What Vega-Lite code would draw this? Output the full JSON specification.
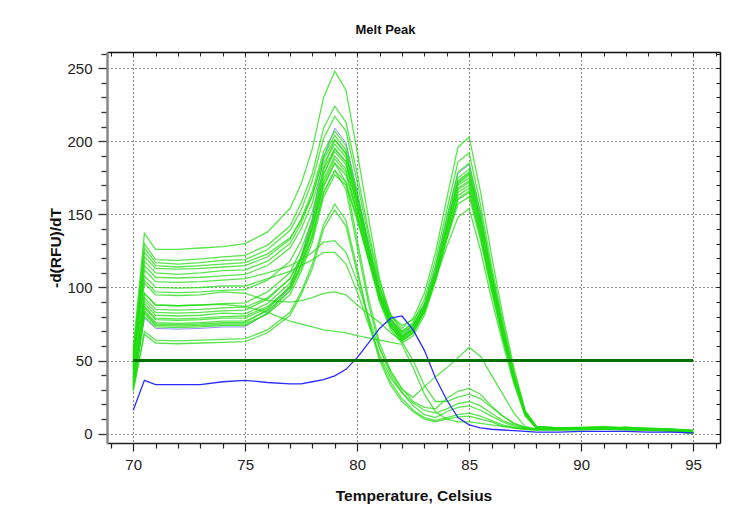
{
"$schema":"https://vega.github.io/schema/vega-lite/v6.json",
"width":613,"height":391,
"autosize":{"type":"none"},
"padding":{"left":107,"top":52,"right":30,"bottom":77},
"background":"white",
"title":{"text":"Melt Peak","font":"Liberation Sans","fontSize":13,"fontWeight":"bold","color":"#111","anchor":"middle","dx":-28,"offset":10},
"config":{"view":{"stroke":null},"axis":{"labelFont":"Liberation Sans","titleFont":"Liberation Sans","labelColor":"#222","titleColor":"#111"}},
"datasets":{
"green":[
{"s":"A1","t":70,"v":58},{"s":"A1","t":70.5,"v":137},{"s":"A1","t":71,"v":126},{"s":"A1","t":72,"v":126},{"s":"A1","t":73,"v":127},{"s":"A1","t":74,"v":128},{"s":"A1","t":75,"v":130},{"s":"A1","t":76,"v":138},{"s":"A1","t":77,"v":154},{"s":"A1","t":77.5,"v":171},{"s":"A1","t":78,"v":195},{"s":"A1","t":78.5,"v":230},{"s":"A1","t":79,"v":248},{"s":"A1","t":79.5,"v":235},{"s":"A1","t":80,"v":193},{"s":"A1","t":80.5,"v":148},{"s":"A1","t":81,"v":106},{"s":"A1","t":81.5,"v":79},{"s":"A1","t":82,"v":66},{"s":"A1","t":82.5,"v":72},{"s":"A1","t":83,"v":86},{"s":"A1","t":83.5,"v":111},{"s":"A1","t":84,"v":142},{"s":"A1","t":84.5,"v":172},{"s":"A1","t":85,"v":178},{"s":"A1","t":85.5,"v":146},{"s":"A1","t":86,"v":107},{"s":"A1","t":86.5,"v":71},{"s":"A1","t":87,"v":39},{"s":"A1","t":87.5,"v":14},{"s":"A1","t":88,"v":4.5},{"s":"A1","t":89,"v":3},{"s":"A1","t":90,"v":3.5},{"s":"A1","t":91,"v":4},{"s":"A1","t":92,"v":4},{"s":"A1","t":93,"v":3.5},{"s":"A1","t":94,"v":2.5},{"s":"A1","t":95,"v":1},
{"s":"A2","t":70,"v":55},{"s":"A2","t":70.5,"v":130},{"s":"A2","t":71,"v":119},{"s":"A2","t":72,"v":118.5},{"s":"A2","t":73,"v":119.5},{"s":"A2","t":74,"v":121},{"s":"A2","t":75,"v":122},{"s":"A2","t":76,"v":129},{"s":"A2","t":77,"v":142},{"s":"A2","t":77.5,"v":158},{"s":"A2","t":78,"v":178},{"s":"A2","t":78.5,"v":209},{"s":"A2","t":79,"v":224},{"s":"A2","t":79.5,"v":213},{"s":"A2","t":80,"v":178},{"s":"A2","t":80.5,"v":139},{"s":"A2","t":81,"v":104},{"s":"A2","t":81.5,"v":81},{"s":"A2","t":82,"v":70},{"s":"A2","t":82.5,"v":76},{"s":"A2","t":83,"v":92},{"s":"A2","t":83.5,"v":119},{"s":"A2","t":84,"v":153},{"s":"A2","t":84.5,"v":186},{"s":"A2","t":85,"v":192},{"s":"A2","t":85.5,"v":157},{"s":"A2","t":86,"v":115},{"s":"A2","t":86.5,"v":77},{"s":"A2","t":87,"v":42},{"s":"A2","t":87.5,"v":15},{"s":"A2","t":88,"v":5},{"s":"A2","t":89,"v":4},{"s":"A2","t":90,"v":3},{"s":"A2","t":91,"v":3.5},{"s":"A2","t":92,"v":4.5},{"s":"A2","t":93,"v":3},{"s":"A2","t":94,"v":2},{"s":"A2","t":95,"v":0.5},
{"s":"A3","t":70,"v":53},{"s":"A3","t":70.5,"v":127},{"s":"A3","t":71,"v":117},{"s":"A3","t":72,"v":116},{"s":"A3","t":73,"v":117},{"s":"A3","t":74,"v":118.5},{"s":"A3","t":75,"v":119},{"s":"A3","t":76,"v":126},{"s":"A3","t":77,"v":139},{"s":"A3","t":77.5,"v":153},{"s":"A3","t":78,"v":173},{"s":"A3","t":78.5,"v":202},{"s":"A3","t":79,"v":217},{"s":"A3","t":79.5,"v":207},{"s":"A3","t":80,"v":172},{"s":"A3","t":80.5,"v":135},{"s":"A3","t":81,"v":101},{"s":"A3","t":81.5,"v":78},{"s":"A3","t":82,"v":68},{"s":"A3","t":82.5,"v":74},{"s":"A3","t":83,"v":89},{"s":"A3","t":83.5,"v":115},{"s":"A3","t":84,"v":148},{"s":"A3","t":84.5,"v":179},{"s":"A3","t":85,"v":185},{"s":"A3","t":85.5,"v":152},{"s":"A3","t":86,"v":111},{"s":"A3","t":86.5,"v":74},{"s":"A3","t":87,"v":41},{"s":"A3","t":87.5,"v":15},{"s":"A3","t":88,"v":5},{"s":"A3","t":89,"v":3.5},{"s":"A3","t":90,"v":4},{"s":"A3","t":91,"v":4},{"s":"A3","t":92,"v":3.5},{"s":"A3","t":93,"v":3},{"s":"A3","t":94,"v":3},{"s":"A3","t":95,"v":2},
{"s":"A4","t":70,"v":51},{"s":"A4","t":70.5,"v":124},{"s":"A4","t":71,"v":115},{"s":"A4","t":72,"v":114},{"s":"A4","t":73,"v":115},{"s":"A4","t":74,"v":116},{"s":"A4","t":75,"v":117},{"s":"A4","t":76,"v":123},{"s":"A4","t":77,"v":134},{"s":"A4","t":77.5,"v":146},{"s":"A4","t":78,"v":163},{"s":"A4","t":78.5,"v":188},{"s":"A4","t":79,"v":201},{"s":"A4","t":79.5,"v":192},{"s":"A4","t":80,"v":162},{"s":"A4","t":80.5,"v":130},{"s":"A4","t":81,"v":100},{"s":"A4","t":81.5,"v":81},{"s":"A4","t":82,"v":72},{"s":"A4","t":82.5,"v":79},{"s":"A4","t":83,"v":96},{"s":"A4","t":83.5,"v":124},{"s":"A4","t":84,"v":161},{"s":"A4","t":84.5,"v":196},{"s":"A4","t":85,"v":203},{"s":"A4","t":85.5,"v":166},{"s":"A4","t":86,"v":122},{"s":"A4","t":86.5,"v":81},{"s":"A4","t":87,"v":45},{"s":"A4","t":87.5,"v":16},{"s":"A4","t":88,"v":5},{"s":"A4","t":89,"v":4},{"s":"A4","t":90,"v":4.5},{"s":"A4","t":91,"v":5},{"s":"A4","t":92,"v":4},{"s":"A4","t":93,"v":3.5},{"s":"A4","t":94,"v":2.5},{"s":"A4","t":95,"v":1.5},
{"s":"A5","t":70,"v":50},{"s":"A5","t":70.5,"v":121},{"s":"A5","t":71,"v":113},{"s":"A5","t":72,"v":112.5},{"s":"A5","t":73,"v":113},{"s":"A5","t":74,"v":114},{"s":"A5","t":75,"v":115},{"s":"A5","t":76,"v":121},{"s":"A5","t":77,"v":133},{"s":"A5","t":77.5,"v":147},{"s":"A5","t":78,"v":166},{"s":"A5","t":78.5,"v":193},{"s":"A5","t":79,"v":207},{"s":"A5","t":79.5,"v":197},{"s":"A5","t":80,"v":164},{"s":"A5","t":80.5,"v":129},{"s":"A5","t":81,"v":96},{"s":"A5","t":81.5,"v":75},{"s":"A5","t":82,"v":65},{"s":"A5","t":82.5,"v":71},{"s":"A5","t":83,"v":86},{"s":"A5","t":83.5,"v":111},{"s":"A5","t":84,"v":144},{"s":"A5","t":84.5,"v":175},{"s":"A5","t":85,"v":181},{"s":"A5","t":85.5,"v":148},{"s":"A5","t":86,"v":109},{"s":"A5","t":86.5,"v":72},{"s":"A5","t":87,"v":40},{"s":"A5","t":87.5,"v":14},{"s":"A5","t":88,"v":4.5},{"s":"A5","t":89,"v":3},{"s":"A5","t":90,"v":3},{"s":"A5","t":91,"v":3.5},{"s":"A5","t":92,"v":3.5},{"s":"A5","t":93,"v":3},{"s":"A5","t":94,"v":2},{"s":"A5","t":95,"v":0},
{"s":"A6","t":70,"v":48},{"s":"A6","t":70.5,"v":118},{"s":"A6","t":71,"v":110},{"s":"A6","t":72,"v":109},{"s":"A6","t":73,"v":110},{"s":"A6","t":74,"v":111.5},{"s":"A6","t":75,"v":112},{"s":"A6","t":76,"v":118},{"s":"A6","t":77,"v":130},{"s":"A6","t":77.5,"v":144},{"s":"A6","t":78,"v":163},{"s":"A6","t":78.5,"v":190},{"s":"A6","t":79,"v":204},{"s":"A6","t":79.5,"v":194},{"s":"A6","t":80,"v":162},{"s":"A6","t":80.5,"v":126},{"s":"A6","t":81,"v":94},{"s":"A6","t":81.5,"v":73},{"s":"A6","t":82,"v":63},{"s":"A6","t":82.5,"v":69},{"s":"A6","t":83,"v":84},{"s":"A6","t":83.5,"v":109},{"s":"A6","t":84,"v":142},{"s":"A6","t":84.5,"v":173},{"s":"A6","t":85,"v":179},{"s":"A6","t":85.5,"v":147},{"s":"A6","t":86,"v":107},{"s":"A6","t":86.5,"v":72},{"s":"A6","t":87,"v":39},{"s":"A6","t":87.5,"v":14},{"s":"A6","t":88,"v":4.5},{"s":"A6","t":89,"v":4},{"s":"A6","t":90,"v":3.5},{"s":"A6","t":91,"v":3},{"s":"A6","t":92,"v":4},{"s":"A6","t":93,"v":4},{"s":"A6","t":94,"v":3},{"s":"A6","t":95,"v":2.5},
{"s":"A7","t":70,"v":47},{"s":"A7","t":70.5,"v":115},{"s":"A7","t":71,"v":107},{"s":"A7","t":72,"v":106.5},{"s":"A7","t":73,"v":107},{"s":"A7","t":74,"v":108},{"s":"A7","t":75,"v":109},{"s":"A7","t":76,"v":115},{"s":"A7","t":77,"v":127},{"s":"A7","t":77.5,"v":140},{"s":"A7","t":78,"v":158},{"s":"A7","t":78.5,"v":185},{"s":"A7","t":79,"v":198},{"s":"A7","t":79.5,"v":189},{"s":"A7","t":80,"v":159},{"s":"A7","t":80.5,"v":126},{"s":"A7","t":81,"v":96},{"s":"A7","t":81.5,"v":76},{"s":"A7","t":82,"v":67},{"s":"A7","t":82.5,"v":72},{"s":"A7","t":83,"v":86},{"s":"A7","t":83.5,"v":110},{"s":"A7","t":84,"v":140},{"s":"A7","t":84.5,"v":170},{"s":"A7","t":85,"v":175},{"s":"A7","t":85.5,"v":144},{"s":"A7","t":86,"v":105},{"s":"A7","t":86.5,"v":70},{"s":"A7","t":87,"v":38},{"s":"A7","t":87.5,"v":14},{"s":"A7","t":88,"v":4},{"s":"A7","t":89,"v":3},{"s":"A7","t":90,"v":4},{"s":"A7","t":91,"v":4.5},{"s":"A7","t":92,"v":4},{"s":"A7","t":93,"v":3},{"s":"A7","t":94,"v":2},{"s":"A7","t":95,"v":1},
{"s":"A8","t":70,"v":44},{"s":"A8","t":70.5,"v":105},{"s":"A8","t":71,"v":97},{"s":"A8","t":72,"v":96.5},{"s":"A8","t":73,"v":97},{"s":"A8","t":74,"v":98},{"s":"A8","t":75,"v":98.5},{"s":"A8","t":76,"v":105},{"s":"A8","t":77,"v":118},{"s":"A8","t":77.5,"v":132},{"s":"A8","t":78,"v":152},{"s":"A8","t":78.5,"v":181},{"s":"A8","t":79,"v":195},{"s":"A8","t":79.5,"v":186},{"s":"A8","t":80,"v":156},{"s":"A8","t":80.5,"v":123},{"s":"A8","t":81,"v":93},{"s":"A8","t":81.5,"v":73},{"s":"A8","t":82,"v":64},{"s":"A8","t":82.5,"v":69},{"s":"A8","t":83,"v":83},{"s":"A8","t":83.5,"v":107},{"s":"A8","t":84,"v":137},{"s":"A8","t":84.5,"v":167},{"s":"A8","t":85,"v":172},{"s":"A8","t":85.5,"v":141},{"s":"A8","t":86,"v":103},{"s":"A8","t":86.5,"v":69},{"s":"A8","t":87,"v":38},{"s":"A8","t":87.5,"v":14},{"s":"A8","t":88,"v":4},{"s":"A8","t":89,"v":3.5},{"s":"A8","t":90,"v":3.5},{"s":"A8","t":91,"v":3.5},{"s":"A8","t":92,"v":3},{"s":"A8","t":93,"v":3},{"s":"A8","t":94,"v":2.5},{"s":"A8","t":95,"v":1.5},
{"s":"A9","t":70,"v":40},{"s":"A9","t":70.5,"v":96},{"s":"A9","t":71,"v":88},{"s":"A9","t":72,"v":87.5},{"s":"A9","t":73,"v":88},{"s":"A9","t":74,"v":89},{"s":"A9","t":75,"v":89.5},{"s":"A9","t":76,"v":97},{"s":"A9","t":77,"v":110},{"s":"A9","t":77.5,"v":126},{"s":"A9","t":78,"v":146},{"s":"A9","t":78.5,"v":178},{"s":"A9","t":79,"v":193},{"s":"A9","t":79.5,"v":184},{"s":"A9","t":80,"v":156},{"s":"A9","t":80.5,"v":125},{"s":"A9","t":81,"v":96},{"s":"A9","t":81.5,"v":78},{"s":"A9","t":82,"v":69},{"s":"A9","t":82.5,"v":74},{"s":"A9","t":83,"v":87},{"s":"A9","t":83.5,"v":109},{"s":"A9","t":84,"v":138},{"s":"A9","t":84.5,"v":165},{"s":"A9","t":85,"v":170},{"s":"A9","t":85.5,"v":139},{"s":"A9","t":86,"v":102},{"s":"A9","t":86.5,"v":68},{"s":"A9","t":87,"v":37},{"s":"A9","t":87.5,"v":14},{"s":"A9","t":88,"v":4},{"s":"A9","t":89,"v":4},{"s":"A9","t":90,"v":4},{"s":"A9","t":91,"v":4},{"s":"A9","t":92,"v":4.5},{"s":"A9","t":93,"v":3.5},{"s":"A9","t":94,"v":3},{"s":"A9","t":95,"v":2},
{"s":"A10","t":70,"v":38},{"s":"A10","t":70.5,"v":91},{"s":"A10","t":71,"v":83},{"s":"A10","t":72,"v":82.5},{"s":"A10","t":73,"v":83},{"s":"A10","t":74,"v":84},{"s":"A10","t":75,"v":84.5},{"s":"A10","t":76,"v":92},{"s":"A10","t":77,"v":106},{"s":"A10","t":77.5,"v":121},{"s":"A10","t":78,"v":143},{"s":"A10","t":78.5,"v":174},{"s":"A10","t":79,"v":190},{"s":"A10","t":79.5,"v":181},{"s":"A10","t":80,"v":152},{"s":"A10","t":80.5,"v":120},{"s":"A10","t":81,"v":90},{"s":"A10","t":81.5,"v":71},{"s":"A10","t":82,"v":62},{"s":"A10","t":82.5,"v":67},{"s":"A10","t":83,"v":81},{"s":"A10","t":83.5,"v":104},{"s":"A10","t":84,"v":134},{"s":"A10","t":84.5,"v":163},{"s":"A10","t":85,"v":168},{"s":"A10","t":85.5,"v":138},{"s":"A10","t":86,"v":101},{"s":"A10","t":86.5,"v":67},{"s":"A10","t":87,"v":37},{"s":"A10","t":87.5,"v":13},{"s":"A10","t":88,"v":4},{"s":"A10","t":89,"v":3},{"s":"A10","t":90,"v":3},{"s":"A10","t":91,"v":3.5},{"s":"A10","t":92,"v":3.5},{"s":"A10","t":93,"v":2.5},{"s":"A10","t":94,"v":2},{"s":"A10","t":95,"v":0.5},
{"s":"A11","t":70,"v":37},{"s":"A11","t":70.5,"v":89},{"s":"A11","t":71,"v":81},{"s":"A11","t":72,"v":80.5},{"s":"A11","t":73,"v":81},{"s":"A11","t":74,"v":82.5},{"s":"A11","t":75,"v":82},{"s":"A11","t":76,"v":89},{"s":"A11","t":77,"v":103},{"s":"A11","t":77.5,"v":119},{"s":"A11","t":78,"v":140},{"s":"A11","t":78.5,"v":172},{"s":"A11","t":79,"v":188},{"s":"A11","t":79.5,"v":179},{"s":"A11","t":80,"v":151},{"s":"A11","t":80.5,"v":121},{"s":"A11","t":81,"v":93},{"s":"A11","t":81.5,"v":75},{"s":"A11","t":82,"v":66},{"s":"A11","t":82.5,"v":71},{"s":"A11","t":83,"v":84},{"s":"A11","t":83.5,"v":106},{"s":"A11","t":84,"v":134},{"s":"A11","t":84.5,"v":161},{"s":"A11","t":85,"v":166},{"s":"A11","t":85.5,"v":136},{"s":"A11","t":86,"v":100},{"s":"A11","t":86.5,"v":66},{"s":"A11","t":87,"v":37},{"s":"A11","t":87.5,"v":13},{"s":"A11","t":88,"v":4},{"s":"A11","t":89,"v":3.5},{"s":"A11","t":90,"v":4},{"s":"A11","t":91,"v":3.5},{"s":"A11","t":92,"v":3},{"s":"A11","t":93,"v":3.5},{"s":"A11","t":94,"v":3},{"s":"A11","t":95,"v":1},
{"s":"A12","t":70,"v":35},{"s":"A12","t":70.5,"v":86},{"s":"A12","t":71,"v":78},{"s":"A12","t":72,"v":77.5},{"s":"A12","t":73,"v":78},{"s":"A12","t":74,"v":79},{"s":"A12","t":75,"v":79},{"s":"A12","t":76,"v":86},{"s":"A12","t":77,"v":100},{"s":"A12","t":77.5,"v":116},{"s":"A12","t":78,"v":137},{"s":"A12","t":78.5,"v":169},{"s":"A12","t":79,"v":185},{"s":"A12","t":79.5,"v":177},{"s":"A12","t":80,"v":149},{"s":"A12","t":80.5,"v":119},{"s":"A12","t":81,"v":91},{"s":"A12","t":81.5,"v":73},{"s":"A12","t":82,"v":65},{"s":"A12","t":82.5,"v":70},{"s":"A12","t":83,"v":83},{"s":"A12","t":83.5,"v":105},{"s":"A12","t":84,"v":133},{"s":"A12","t":84.5,"v":160},{"s":"A12","t":85,"v":165},{"s":"A12","t":85.5,"v":135},{"s":"A12","t":86,"v":99},{"s":"A12","t":86.5,"v":66},{"s":"A12","t":87,"v":36},{"s":"A12","t":87.5,"v":13},{"s":"A12","t":88,"v":4},{"s":"A12","t":89,"v":3},{"s":"A12","t":90,"v":3.5},{"s":"A12","t":91,"v":4},{"s":"A12","t":92,"v":3.5},{"s":"A12","t":93,"v":3},{"s":"A12","t":94,"v":2},{"s":"A12","t":95,"v":1},
{"s":"A13","t":70,"v":34},{"s":"A13","t":70.5,"v":84},{"s":"A13","t":71,"v":76},{"s":"A13","t":72,"v":75.5},{"s":"A13","t":73,"v":76},{"s":"A13","t":74,"v":77},{"s":"A13","t":75,"v":77},{"s":"A13","t":76,"v":84},{"s":"A13","t":77,"v":98},{"s":"A13","t":77.5,"v":113},{"s":"A13","t":78,"v":134},{"s":"A13","t":78.5,"v":165},{"s":"A13","t":79,"v":180},{"s":"A13","t":79.5,"v":172},{"s":"A13","t":80,"v":147},{"s":"A13","t":80.5,"v":120},{"s":"A13","t":81,"v":94},{"s":"A13","t":81.5,"v":78},{"s":"A13","t":82,"v":70},{"s":"A13","t":82.5,"v":75},{"s":"A13","t":83,"v":87},{"s":"A13","t":83.5,"v":107},{"s":"A13","t":84,"v":133},{"s":"A13","t":84.5,"v":157},{"s":"A13","t":85,"v":162},{"s":"A13","t":85.5,"v":133},{"s":"A13","t":86,"v":97},{"s":"A13","t":86.5,"v":65},{"s":"A13","t":87,"v":36},{"s":"A13","t":87.5,"v":13},{"s":"A13","t":88,"v":4},{"s":"A13","t":89,"v":3.5},{"s":"A13","t":90,"v":3},{"s":"A13","t":91,"v":3},{"s":"A13","t":92,"v":3.5},{"s":"A13","t":93,"v":3},{"s":"A13","t":94,"v":2.5},{"s":"A13","t":95,"v":1.5},
{"s":"A14","t":70,"v":33},{"s":"A14","t":70.5,"v":83},{"s":"A14","t":71,"v":75},{"s":"A14","t":72,"v":74.5},{"s":"A14","t":73,"v":75},{"s":"A14","t":74,"v":76},{"s":"A14","t":75,"v":76},{"s":"A14","t":76,"v":85},{"s":"A14","t":77,"v":101},{"s":"A14","t":77.5,"v":120},{"s":"A14","t":78,"v":145},{"s":"A14","t":78.5,"v":182},{"s":"A14","t":79,"v":201},{"s":"A14","t":79.5,"v":191},{"s":"A14","t":80,"v":160},{"s":"A14","t":80.5,"v":126},{"s":"A14","t":81,"v":94},{"s":"A14","t":81.5,"v":74},{"s":"A14","t":82,"v":64},{"s":"A14","t":82.5,"v":69},{"s":"A14","t":83,"v":84},{"s":"A14","t":83.5,"v":108},{"s":"A14","t":84,"v":138},{"s":"A14","t":84.5,"v":168},{"s":"A14","t":85,"v":173},{"s":"A14","t":85.5,"v":142},{"s":"A14","t":86,"v":104},{"s":"A14","t":86.5,"v":69},{"s":"A14","t":87,"v":38},{"s":"A14","t":87.5,"v":14},{"s":"A14","t":88,"v":4},{"s":"A14","t":89,"v":4},{"s":"A14","t":90,"v":4},{"s":"A14","t":91,"v":4.5},{"s":"A14","t":92,"v":4},{"s":"A14","t":93,"v":3.5},{"s":"A14","t":94,"v":3},{"s":"A14","t":95,"v":2},
{"s":"A15","t":70,"v":32},{"s":"A15","t":70.5,"v":82},{"s":"A15","t":71,"v":74},{"s":"A15","t":72,"v":73.5},{"s":"A15","t":73,"v":74},{"s":"A15","t":74,"v":75},{"s":"A15","t":75,"v":75},{"s":"A15","t":76,"v":82},{"s":"A15","t":77,"v":95},{"s":"A15","t":77.5,"v":111},{"s":"A15","t":78,"v":131},{"s":"A15","t":78.5,"v":162},{"s":"A15","t":79,"v":177},{"s":"A15","t":79.5,"v":170},{"s":"A15","t":80,"v":146},{"s":"A15","t":80.5,"v":120},{"s":"A15","t":81,"v":97},{"s":"A15","t":81.5,"v":81},{"s":"A15","t":82,"v":74},{"s":"A15","t":82.5,"v":78},{"s":"A15","t":83,"v":88},{"s":"A15","t":83.5,"v":106},{"s":"A15","t":84,"v":128},{"s":"A15","t":84.5,"v":148},{"s":"A15","t":85,"v":154},{"s":"A15","t":85.5,"v":126},{"s":"A15","t":86,"v":92},{"s":"A15","t":86.5,"v":62},{"s":"A15","t":87,"v":34},{"s":"A15","t":87.5,"v":12},{"s":"A15","t":88,"v":4},{"s":"A15","t":89,"v":3},{"s":"A15","t":90,"v":3},{"s":"A15","t":91,"v":3.5},{"s":"A15","t":92,"v":3},{"s":"A15","t":93,"v":2.5},{"s":"A15","t":94,"v":2},{"s":"A15","t":95,"v":0},
{"s":"A16","t":70,"v":31},{"s":"A16","t":70.5,"v":80},{"s":"A16","t":71,"v":73},{"s":"A16","t":72,"v":72.5},{"s":"A16","t":73,"v":73},{"s":"A16","t":74,"v":74},{"s":"A16","t":75,"v":74},{"s":"A16","t":76,"v":82},{"s":"A16","t":77,"v":98},{"s":"A16","t":77.5,"v":116},{"s":"A16","t":78,"v":141},{"s":"A16","t":78.5,"v":177},{"s":"A16","t":79,"v":195},{"s":"A16","t":79.5,"v":186},{"s":"A16","t":80,"v":156},{"s":"A16","t":80.5,"v":124},{"s":"A16","t":81,"v":94},{"s":"A16","t":81.5,"v":75},{"s":"A16","t":82,"v":66},{"s":"A16","t":82.5,"v":72},{"s":"A16","t":83,"v":86},{"s":"A16","t":83.5,"v":110},{"s":"A16","t":84,"v":141},{"s":"A16","t":84.5,"v":171},{"s":"A16","t":85,"v":177},{"s":"A16","t":85.5,"v":145},{"s":"A16","t":86,"v":106},{"s":"A16","t":86.5,"v":71},{"s":"A16","t":87,"v":39},{"s":"A16","t":87.5,"v":14},{"s":"A16","t":88,"v":4.5},{"s":"A16","t":89,"v":3.5},{"s":"A16","t":90,"v":3.5},{"s":"A16","t":91,"v":4},{"s":"A16","t":92,"v":4},{"s":"A16","t":93,"v":3},{"s":"A16","t":94,"v":2.5},{"s":"A16","t":95,"v":1},
{"s":"B1","t":70,"v":46},{"s":"B1","t":70.5,"v":112},{"s":"B1","t":71,"v":104},{"s":"B1","t":72,"v":103.5},{"s":"B1","t":73,"v":104},{"s":"B1","t":74,"v":105},{"s":"B1","t":75,"v":106},{"s":"B1","t":76,"v":110},{"s":"B1","t":77,"v":115},{"s":"B1","t":77.5,"v":119},{"s":"B1","t":78,"v":124},{"s":"B1","t":78.5,"v":131},{"s":"B1","t":79,"v":132},{"s":"B1","t":79.5,"v":124},{"s":"B1","t":80,"v":104},{"s":"B1","t":80.5,"v":80},{"s":"B1","t":81,"v":58},{"s":"B1","t":81.5,"v":42},{"s":"B1","t":82,"v":30},{"s":"B1","t":82.5,"v":25},{"s":"B1","t":83,"v":32},{"s":"B1","t":83.5,"v":39},{"s":"B1","t":84,"v":45},{"s":"B1","t":84.5,"v":52},{"s":"B1","t":85,"v":59},{"s":"B1","t":85.5,"v":53},{"s":"B1","t":86,"v":40},{"s":"B1","t":86.5,"v":27},{"s":"B1","t":87,"v":14},{"s":"B1","t":87.5,"v":5},{"s":"B1","t":88,"v":3},{"s":"B1","t":89,"v":3},{"s":"B1","t":90,"v":3.5},{"s":"B1","t":91,"v":3.5},{"s":"B1","t":92,"v":3},{"s":"B1","t":93,"v":3},{"s":"B1","t":94,"v":2},{"s":"B1","t":95,"v":1},
{"s":"B2","t":70,"v":45},{"s":"B2","t":70.5,"v":108},{"s":"B2","t":71,"v":100},{"s":"B2","t":72,"v":99.5},{"s":"B2","t":73,"v":100},{"s":"B2","t":74,"v":101},{"s":"B2","t":75,"v":101},{"s":"B2","t":76,"v":106},{"s":"B2","t":77,"v":111},{"s":"B2","t":77.5,"v":115},{"s":"B2","t":78,"v":119},{"s":"B2","t":78.5,"v":124},{"s":"B2","t":79,"v":124},{"s":"B2","t":79.5,"v":116},{"s":"B2","t":80,"v":97},{"s":"B2","t":80.5,"v":75},{"s":"B2","t":81,"v":54},{"s":"B2","t":81.5,"v":38},{"s":"B2","t":82,"v":28},{"s":"B2","t":82.5,"v":21},{"s":"B2","t":83,"v":16},{"s":"B2","t":83.5,"v":14},{"s":"B2","t":84,"v":17},{"s":"B2","t":84.5,"v":20.5},{"s":"B2","t":85,"v":22},{"s":"B2","t":85.5,"v":19},{"s":"B2","t":86,"v":14},{"s":"B2","t":86.5,"v":9},{"s":"B2","t":87,"v":6},{"s":"B2","t":87.5,"v":4},{"s":"B2","t":88,"v":3},{"s":"B2","t":89,"v":3},{"s":"B2","t":90,"v":3},{"s":"B2","t":91,"v":3.5},{"s":"B2","t":92,"v":3.5},{"s":"B2","t":93,"v":2.5},{"s":"B2","t":94,"v":2},{"s":"B2","t":95,"v":0.5},
{"s":"B3","t":70,"v":38},{"s":"B3","t":70.5,"v":93},{"s":"B3","t":71,"v":85},{"s":"B3","t":72,"v":84.5},{"s":"B3","t":73,"v":85},{"s":"B3","t":74,"v":86},{"s":"B3","t":75,"v":86.5},{"s":"B3","t":76,"v":93},{"s":"B3","t":77,"v":106},{"s":"B3","t":77.5,"v":121},{"s":"B3","t":78,"v":141},{"s":"B3","t":78.5,"v":170},{"s":"B3","t":79,"v":185},{"s":"B3","t":79.5,"v":172},{"s":"B3","t":80,"v":133},{"s":"B3","t":80.5,"v":93},{"s":"B3","t":81,"v":62},{"s":"B3","t":81.5,"v":43},{"s":"B3","t":82,"v":31},{"s":"B3","t":82.5,"v":22},{"s":"B3","t":83,"v":18},{"s":"B3","t":83.5,"v":17},{"s":"B3","t":84,"v":24},{"s":"B3","t":84.5,"v":29},{"s":"B3","t":85,"v":31},{"s":"B3","t":85.5,"v":27},{"s":"B3","t":86,"v":19},{"s":"B3","t":86.5,"v":12},{"s":"B3","t":87,"v":7},{"s":"B3","t":87.5,"v":4},{"s":"B3","t":88,"v":3},{"s":"B3","t":89,"v":3.5},{"s":"B3","t":90,"v":3.5},{"s":"B3","t":91,"v":3},{"s":"B3","t":92,"v":3},{"s":"B3","t":93,"v":3},{"s":"B3","t":94,"v":2.5},{"s":"B3","t":95,"v":1.5},
{"s":"B4","t":70,"v":36},{"s":"B4","t":70.5,"v":87},{"s":"B4","t":71,"v":79},{"s":"B4","t":72,"v":78.5},{"s":"B4","t":73,"v":79},{"s":"B4","t":74,"v":80},{"s":"B4","t":75,"v":80.5},{"s":"B4","t":76,"v":87},{"s":"B4","t":77,"v":100},{"s":"B4","t":77.5,"v":115},{"s":"B4","t":78,"v":135},{"s":"B4","t":78.5,"v":165},{"s":"B4","t":79,"v":180},{"s":"B4","t":79.5,"v":167},{"s":"B4","t":80,"v":128},{"s":"B4","t":80.5,"v":89},{"s":"B4","t":81,"v":59},{"s":"B4","t":81.5,"v":40},{"s":"B4","t":82,"v":28},{"s":"B4","t":82.5,"v":19},{"s":"B4","t":83,"v":13},{"s":"B4","t":83.5,"v":11},{"s":"B4","t":84,"v":15},{"s":"B4","t":84.5,"v":18},{"s":"B4","t":85,"v":19},{"s":"B4","t":85.5,"v":16},{"s":"B4","t":86,"v":12},{"s":"B4","t":86.5,"v":8},{"s":"B4","t":87,"v":5},{"s":"B4","t":87.5,"v":3.5},{"s":"B4","t":88,"v":3},{"s":"B4","t":89,"v":3},{"s":"B4","t":90,"v":3},{"s":"B4","t":91,"v":3},{"s":"B4","t":92,"v":3.5},{"s":"B4","t":93,"v":3},{"s":"B4","t":94,"v":2},{"s":"B4","t":95,"v":1},
{"s":"B5","t":70,"v":30},{"s":"B5","t":70.5,"v":70},{"s":"B5","t":71,"v":64},{"s":"B5","t":72,"v":63.5},{"s":"B5","t":73,"v":64},{"s":"B5","t":74,"v":64.5},{"s":"B5","t":75,"v":65},{"s":"B5","t":76,"v":71},{"s":"B5","t":77,"v":83},{"s":"B5","t":77.5,"v":97},{"s":"B5","t":78,"v":116},{"s":"B5","t":78.5,"v":143},{"s":"B5","t":79,"v":157},{"s":"B5","t":79.5,"v":146},{"s":"B5","t":80,"v":113},{"s":"B5","t":80.5,"v":79},{"s":"B5","t":81,"v":52},{"s":"B5","t":81.5,"v":35},{"s":"B5","t":82,"v":24},{"s":"B5","t":82.5,"v":16},{"s":"B5","t":83,"v":11},{"s":"B5","t":83.5,"v":9},{"s":"B5","t":84,"v":11},{"s":"B5","t":84.5,"v":13},{"s":"B5","t":85,"v":14},{"s":"B5","t":85.5,"v":12},{"s":"B5","t":86,"v":9},{"s":"B5","t":86.5,"v":6},{"s":"B5","t":87,"v":4},{"s":"B5","t":87.5,"v":3},{"s":"B5","t":88,"v":2.5},{"s":"B5","t":89,"v":2.5},{"s":"B5","t":90,"v":3},{"s":"B5","t":91,"v":3},{"s":"B5","t":92,"v":2.5},{"s":"B5","t":93,"v":2.5},{"s":"B5","t":94,"v":2},{"s":"B5","t":95,"v":0.5},
{"s":"B6","t":70,"v":29},{"s":"B6","t":70.5,"v":68},{"s":"B6","t":71,"v":62},{"s":"B6","t":72,"v":61.5},{"s":"B6","t":73,"v":62},{"s":"B6","t":74,"v":62.5},{"s":"B6","t":75,"v":63},{"s":"B6","t":76,"v":69},{"s":"B6","t":77,"v":81},{"s":"B6","t":77.5,"v":95},{"s":"B6","t":78,"v":113},{"s":"B6","t":78.5,"v":140},{"s":"B6","t":79,"v":153},{"s":"B6","t":79.5,"v":142},{"s":"B6","t":80,"v":110},{"s":"B6","t":80.5,"v":77},{"s":"B6","t":81,"v":50},{"s":"B6","t":81.5,"v":33},{"s":"B6","t":82,"v":22},{"s":"B6","t":82.5,"v":15},{"s":"B6","t":83,"v":10},{"s":"B6","t":83.5,"v":8},{"s":"B6","t":84,"v":10},{"s":"B6","t":84.5,"v":11.5},{"s":"B6","t":85,"v":12},{"s":"B6","t":85.5,"v":10},{"s":"B6","t":86,"v":8},{"s":"B6","t":86.5,"v":5},{"s":"B6","t":87,"v":4},{"s":"B6","t":87.5,"v":3},{"s":"B6","t":88,"v":2.5},{"s":"B6","t":89,"v":2.5},{"s":"B6","t":90,"v":2.5},{"s":"B6","t":91,"v":3},{"s":"B6","t":92,"v":3},{"s":"B6","t":93,"v":2},{"s":"B6","t":94,"v":1.5},{"s":"B6","t":95,"v":0},
{"s":"C1","t":70,"v":43},{"s":"C1","t":70.5,"v":103},{"s":"C1","t":71,"v":95},{"s":"C1","t":72,"v":94.5},{"s":"C1","t":73,"v":95},{"s":"C1","t":74,"v":97},{"s":"C1","t":75,"v":96},{"s":"C1","t":76,"v":91},{"s":"C1","t":77,"v":90},{"s":"C1","t":77.5,"v":91},{"s":"C1","t":78,"v":93},{"s":"C1","t":78.5,"v":96},{"s":"C1","t":79,"v":97},{"s":"C1","t":79.5,"v":95},{"s":"C1","t":80,"v":88},{"s":"C1","t":80.5,"v":82},{"s":"C1","t":81,"v":76},{"s":"C1","t":81.5,"v":69},{"s":"C1","t":82,"v":63},{"s":"C1","t":82.5,"v":50},{"s":"C1","t":83,"v":33},{"s":"C1","t":83.5,"v":22},{"s":"C1","t":84,"v":22},{"s":"C1","t":84.5,"v":25},{"s":"C1","t":85,"v":27},{"s":"C1","t":85.5,"v":24},{"s":"C1","t":86,"v":18},{"s":"C1","t":86.5,"v":12},{"s":"C1","t":87,"v":7},{"s":"C1","t":87.5,"v":4.5},{"s":"C1","t":88,"v":3},{"s":"C1","t":89,"v":3},{"s":"C1","t":90,"v":3.5},{"s":"C1","t":91,"v":3.5},{"s":"C1","t":92,"v":3},{"s":"C1","t":93,"v":3},{"s":"C1","t":94,"v":2.5},{"s":"C1","t":95,"v":1},
{"s":"C2","t":70,"v":40},{"s":"C2","t":70.5,"v":96},{"s":"C2","t":71,"v":88},{"s":"C2","t":72,"v":87.5},{"s":"C2","t":73,"v":88},{"s":"C2","t":74,"v":88.5},{"s":"C2","t":75,"v":87},{"s":"C2","t":76,"v":83},{"s":"C2","t":77,"v":77},{"s":"C2","t":77.5,"v":75},{"s":"C2","t":78,"v":73},{"s":"C2","t":78.5,"v":71},{"s":"C2","t":79,"v":70},{"s":"C2","t":79.5,"v":69},{"s":"C2","t":80,"v":67},{"s":"C2","t":80.5,"v":65.5},{"s":"C2","t":81,"v":64},{"s":"C2","t":81.5,"v":62.5},{"s":"C2","t":82,"v":61},{"s":"C2","t":82.5,"v":45},{"s":"C2","t":83,"v":27},{"s":"C2","t":83.5,"v":15},{"s":"C2","t":84,"v":10},{"s":"C2","t":84.5,"v":8},{"s":"C2","t":85,"v":8},{"s":"C2","t":85.5,"v":7},{"s":"C2","t":86,"v":6},{"s":"C2","t":86.5,"v":5},{"s":"C2","t":87,"v":4},{"s":"C2","t":87.5,"v":3.5},{"s":"C2","t":88,"v":3},{"s":"C2","t":89,"v":3},{"s":"C2","t":90,"v":3},{"s":"C2","t":91,"v":3.5},{"s":"C2","t":92,"v":3},{"s":"C2","t":93,"v":2.5},{"s":"C2","t":94,"v":2},{"s":"C2","t":95,"v":0.5}
],
"bh":[
{"t":70,"v":31},{"t":70.5,"v":79},{"t":71,"v":72},{"t":72,"v":71.5},{"t":73,"v":72},{"t":74,"v":73},{"t":75,"v":73},{"t":76,"v":83},{"t":77,"v":100},{"t":77.5,"v":121},{"t":78,"v":148},{"t":78.5,"v":189},{"t":79,"v":209},{"t":79.5,"v":199},{"t":80,"v":166},{"t":80.5,"v":131},{"t":81,"v":98},{"t":81.5,"v":77},{"t":82,"v":67},{"t":82.5,"v":73},{"t":83,"v":88},{"t":83.5,"v":114},{"t":84,"v":147},{"t":84.5,"v":178},{"t":85,"v":184},{"t":85.5,"v":151},{"t":86,"v":110},{"t":86.5,"v":74},{"t":87,"v":40},{"t":87.5,"v":15},{"t":88,"v":5},{"t":89,"v":3.5},{"t":90,"v":4},{"t":91,"v":4},{"t":92,"v":3.5},{"t":93,"v":3},{"t":94,"v":2.5},{"t":95,"v":1}
],
"bl":[
{"t":70,"v":16},{"t":70.5,"v":36.5},{"t":71,"v":33.5},{"t":72,"v":33.5},{"t":73,"v":33.5},{"t":74,"v":35.5},{"t":75,"v":36.5},{"t":76,"v":35},{"t":77,"v":34},{"t":77.5,"v":34},{"t":78,"v":35.5},{"t":78.5,"v":37},{"t":79,"v":39.5},{"t":79.5,"v":44},{"t":80,"v":52},{"t":80.5,"v":62},{"t":81,"v":72},{"t":81.5,"v":79},{"t":82,"v":80.5},{"t":82.5,"v":71},{"t":83,"v":57},{"t":83.5,"v":38},{"t":84,"v":23},{"t":84.5,"v":11},{"t":85,"v":6},{"t":85.5,"v":4},{"t":86,"v":3},{"t":86.5,"v":2.5},{"t":87,"v":2},{"t":87.5,"v":1.5},{"t":88,"v":1},{"t":89,"v":1},{"t":90,"v":1.5},{"t":91,"v":1.5},{"t":92,"v":1.5},{"t":93,"v":1},{"t":94,"v":1},{"t":95,"v":0.5}
],
"thr":[{"x1":70,"x2":95,"y":50}]
},
"layer":[
{"data":{"name":"bh"},"mark":{"type":"line","color":"#6a5cff","strokeWidth":1,"opacity":0.7},
 "encoding":{"x":{"field":"t","type":"quantitative","scale":{"domain":[68.83,96.2],"nice":false,"zero":false},"axis":null},
 "y":{"field":"v","type":"quantitative","scale":{"domain":[-6.4,261.1],"nice":false,"zero":false},"axis":null}}},
{"data":{"name":"green"},"mark":{"type":"line","color":"#22dd11","strokeWidth":1.3,"opacity":0.75},
 "encoding":{
 "x":{"field":"t","type":"quantitative","scale":{"domain":[68.83,96.2],"nice":false,"zero":false},
  "axis":{"orient":"bottom","values":[69,70,71,72,73,74,75,76,77,78,79,80,81,82,83,84,85,86,87,88,89,90,91,92,93,94,95,96],
  "labelExpr":"datum.value % 5 === 0 ? datum.label : ''",
  "tickSize":{"condition":{"test":"datum.value % 5 === 0","value":8},"value":5},
  "tickColor":"#222","tickWidth":1.2,"domainColor":"#222","domainWidth":1.5,
  "grid":true,"gridColor":"#000","gridDash":[1,3],"gridWidth":1.2,
  "gridOpacity":{"condition":{"test":"datum.value % 5 === 0","value":0.85},"value":0},
  "labelFontSize":15,"labelPadding":6,"labelFlush":false,"labelOverlap":false,
  "title":"Temperature, Celsius","titleFontSize":15.5,"titleFontWeight":"bold","titlePadding":16}},
 "y":{"field":"v","type":"quantitative","scale":{"domain":[-6.4,261.1],"nice":false,"zero":false},
  "axis":{"orient":"left","values":[0,10,20,30,40,50,60,70,80,90,100,110,120,130,140,150,160,170,180,190,200,210,220,230,240,250,260],
  "labelExpr":"datum.value % 50 === 0 ? datum.label : ''",
  "tickSize":{"condition":{"test":"datum.value % 50 === 0","value":9},"value":6},
  "tickColor":"#333","tickWidth":1.3,"domainColor":"#888","domainWidth":2.5,
  "grid":true,"gridColor":"#000","gridDash":[1,3],"gridWidth":1.2,
  "gridOpacity":{"condition":{"test":"datum.value % 50 === 0","value":0.85},"value":0},
  "labelFontSize":15,"labelPadding":6,"labelFlush":false,"labelOverlap":false,
  "title":"-d(RFU)/dT","titleFontSize":15.5,"titleFontWeight":"bold","titlePadding":3}},
 "detail":{"field":"s","type":"nominal"}}},
{"data":{"name":"bl"},"mark":{"type":"line","color":"#2b2bff","strokeWidth":1.3},
 "encoding":{"x":{"field":"t","type":"quantitative","scale":{"domain":[68.83,96.2],"nice":false,"zero":false},"axis":null},
 "y":{"field":"v","type":"quantitative","scale":{"domain":[-6.4,261.1],"nice":false,"zero":false},"axis":null}}},
{"data":{"name":"thr"},"mark":{"type":"rule","color":"#007000","strokeWidth":3},
 "encoding":{
 "x":{"field":"x1","type":"quantitative","scale":{"domain":[68.83,96.2],"nice":false,"zero":false},
  "axis":{"orient":"top","values":[69,70,71,72,73,74,75,76,77,78,79,80,81,82,83,84,85,86,87,88,89,90,91,92,93,94,95,96],"labels":false,"title":null,"grid":false,"tickSize":-4,"tickColor":"#222","domainColor":"#111","domainWidth":1.5}},
 "x2":{"field":"x2"},
 "y":{"field":"y","type":"quantitative","scale":{"domain":[-6.4,261.1],"nice":false,"zero":false},
  "axis":{"orient":"right","values":[0,10,20,30,40,50,60,70,80,90,100,110,120,130,140,150,160,170,180,190,200,210,220,230,240,250,260],"labels":false,"title":null,"grid":false,"tickSize":-4,"tickColor":"#222","domainColor":"#111","domainWidth":1.5}}}}
],
"resolve":{"axis":{"x":"independent","y":"independent"}}
}
